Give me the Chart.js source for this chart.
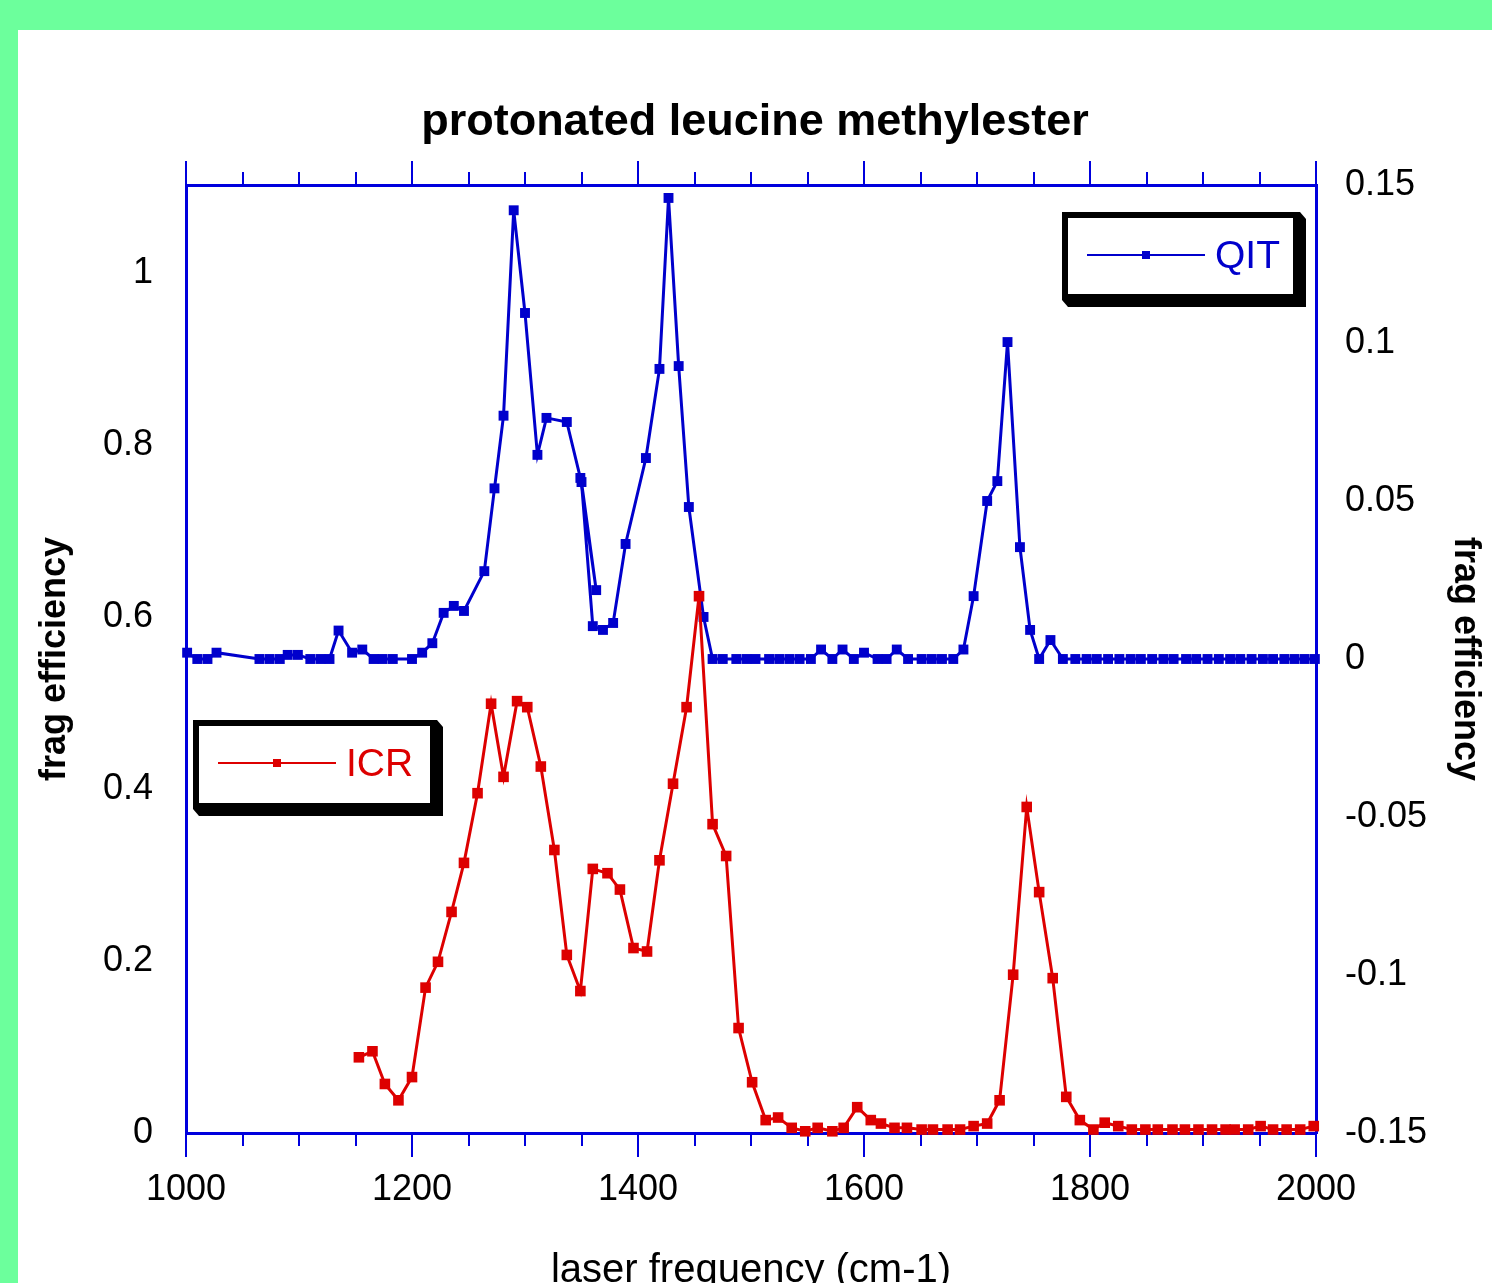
<!DOCTYPE html>
<html>
<head>
<meta charset="utf-8">
<title>protonated leucine methylester</title>
<script src="https://cdn.jsdelivr.net/npm/chart.js@4.4.1/dist/chart.umd.min.js"></script>
<style>
    html, body { margin: 0; padding: 0; overflow: hidden; background: #6cff9c; }
    #panel { position: absolute; left: 18px; top: 30px; width: 1474px; height: 1290px; background: #fff; }
</style>
</head>
<body>
<div id="panel"><canvas id="fragChart" width="1474" height="1290"></canvas></div>
<script>
// --- Data ---
const qitFreq = [
    1001, 1010, 1019, 1027, 1065, 1074, 1083, 1090, 1099, 1110,
    1119, 1127, 1135, 1147, 1156, 1166, 1174, 1183, 1200, 1209,
    1218, 1228, 1237, 1246, 1264, 1273, 1281, 1290, 1300, 1311,
    1319, 1337, 1349, 1363, 1350, 1360, 1369, 1378, 1389, 1407,
    1419, 1427, 1436, 1445, 1458, 1466, 1475, 1487, 1496, 1504,
    1516, 1525, 1534, 1543, 1553, 1562, 1572, 1581, 1591, 1600,
    1612, 1620, 1629, 1639, 1651, 1660, 1669, 1679, 1688, 1697,
    1709, 1718, 1727, 1738, 1747, 1755, 1765, 1776, 1787, 1797,
    1806, 1816, 1826, 1836, 1845, 1855, 1865, 1874, 1885, 1894,
    1904, 1914, 1924, 1933, 1943, 1953, 1962, 1972, 1981, 1990,
    1999
];
const qitValues = [
    0.002, 0, 0, 0.002, 0, 0, 0, 0.0013, 0.0013, 0,
    0, 0, 0.009, 0.002, 0.003, 0, 0, 0, 0, 0.002,
    0.005, 0.0146, 0.0168, 0.0152, 0.0278, 0.054, 0.077, 0.142, 0.1095, 0.0646,
    0.0763, 0.075, 0.0573, 0.0218, 0.056, 0.0104, 0.0092, 0.0114, 0.0364, 0.0636,
    0.0918, 0.1459, 0.0927, 0.0481, 0.0133, 0, 0, 0, 0, 0,
    0, 0, 0, 0, 0, 0.003, 0, 0.003, 0, 0.002,
    0, 0, 0.003, 0, 0, 0, 0, 0, 0.003, 0.0199,
    0.05, 0.0563, 0.1003, 0.0354, 0.0092, 0, 0.006, 0, 0, 0,
    0, 0, 0, 0, 0, 0, 0, 0, 0, 0,
    0, 0, 0, 0, 0, 0, 0, 0, 0, 0,
    0
];

const icrFreq = [
    1153, 1165, 1176, 1188, 1200, 1212, 1223, 1235, 1246, 1258,
    1270, 1281, 1293, 1302, 1314, 1326, 1337, 1349, 1360, 1373,
    1384, 1396, 1408, 1419, 1431, 1443, 1454, 1466, 1478, 1489,
    1501, 1513, 1524, 1536, 1548, 1559, 1572, 1582, 1594, 1606,
    1615, 1627, 1638, 1651, 1661, 1674, 1685, 1697, 1709, 1720,
    1732, 1744, 1755, 1767, 1779, 1791, 1803, 1813, 1825, 1837,
    1849, 1860, 1873, 1884, 1896, 1908, 1920, 1928, 1940, 1951,
    1962, 1974, 1986, 1998
];
const icrValues = [
    0.088, 0.095, 0.057, 0.038, 0.065, 0.169, 0.199, 0.257, 0.314, 0.395,
    0.499, 0.414, 0.502, 0.495, 0.426, 0.329, 0.207, 0.165, 0.307, 0.302,
    0.283, 0.215, 0.211, 0.317, 0.406, 0.495, 0.624, 0.359, 0.322, 0.122,
    0.059, 0.015, 0.018, 0.006, 0.002, 0.006, 0.002, 0.006, 0.030, 0.015,
    0.011, 0.006, 0.006, 0.004, 0.004, 0.004, 0.004, 0.008, 0.011, 0.038,
    0.184, 0.379, 0.280, 0.180, 0.042, 0.015, 0.004, 0.012, 0.008, 0.004,
    0.004, 0.004, 0.004, 0.004, 0.004, 0.004, 0.004, 0.004, 0.004, 0.008,
    0.004, 0.004, 0.004, 0.008
];

const freqMin = 1000;
const freqMax = 2000;
const icrTicks = { min: 0, max: 1.102, step: 0.2 };
const qitTicks = { min: -0.15, max: 0.15, step: 0.05 };

const AXIS = '#0000dd';
const QIT_COLOR = '#0000cc';
const ICR_COLOR = '#dd0000';
const FONT = "'Liberation Sans', Arial, sans-serif";

Chart.defaults.font.family = FONT;
Chart.defaults.color = '#000';

// --- Framed legend boxes with black drop shadow ---
const legendBoxes = [
    { label: 'QIT', color: QIT_COLOR, x0: 1044, y0: 182, x1: 1288, y1: 277, lineX0: 1069, lineX1: 1187, lineY: 225 },
    { label: 'ICR', color: ICR_COLOR, x0: 175, y0: 690, x1: 425, y1: 786, lineX0: 200, lineX1: 318, lineY: 733 }
];

const boxLegend = {
    id: 'boxLegend',
    afterDraw(chart) {
        const ctx = chart.ctx;
        ctx.save();
        legendBoxes.forEach(b => {
            ctx.fillStyle = '#000';
            ctx.beginPath();
            ctx.moveTo(b.x0, b.y0);
            ctx.lineTo(b.x1 - 6, b.y0);
            ctx.lineTo(b.x1, b.y0 + 7);
            ctx.lineTo(b.x1, b.y1);
            ctx.lineTo(b.x0 + 6, b.y1);
            ctx.lineTo(b.x0, b.y1 - 7);
            ctx.closePath();
            ctx.fill();
            ctx.fillStyle = '#fff';
            ctx.fillRect(b.x0 + 6, b.y0 + 6, (b.x1 - 13) - (b.x0 + 6), (b.y1 - 13) - (b.y0 + 6));

            ctx.strokeStyle = b.color;
            ctx.lineWidth = 2;
            ctx.beginPath();
            ctx.moveTo(b.lineX0, b.lineY);
            ctx.lineTo(b.lineX1, b.lineY);
            ctx.stroke();
            const mid = (b.lineX0 + b.lineX1) / 2;
            ctx.fillStyle = b.color;
            ctx.fillRect(mid - 4, b.lineY - 4, 8, 8);

            ctx.font = '39px ' + FONT;
            ctx.textAlign = 'left';
            ctx.textBaseline = 'middle';
            ctx.fillText(b.label, b.lineX1 + 10, b.lineY + 2);
        });
        ctx.restore();
    }
};

function tickFormat(value) {
    if (Math.abs(value) < 1e-9) return '0';
    return String(+value.toFixed(2));
}

const ctx = document.getElementById('fragChart').getContext('2d');
const fragChart = new Chart(ctx, {
    type: 'line',
    data: {
        datasets: [
            {
                label: 'ICR',
                data: icrFreq.map((f, i) => ({ x: f, y: icrValues[i] })),
                borderColor: ICR_COLOR,
                backgroundColor: ICR_COLOR,
                borderWidth: 3,
                pointStyle: 'rect',
                pointRadius: 7.5,
                pointBorderWidth: 0,
                tension: 0,
                clip: false,
                xAxisID: 'x',
                yAxisID: 'y'
            },
            {
                label: 'QIT',
                data: qitFreq.map((f, i) => ({ x: f, y: qitValues[i] })),
                borderColor: QIT_COLOR,
                backgroundColor: QIT_COLOR,
                borderWidth: 3,
                pointStyle: 'rect',
                pointRadius: 7,
                pointBorderWidth: 0,
                tension: 0,
                clip: false,
                xAxisID: 'x',
                yAxisID: 'y1'
            }
        ]
    },
    options: {
        responsive: false,
        animation: false,
        devicePixelRatio: 1,
        layout: { padding: 0 },
        plugins: {
            legend: { display: false },
            tooltip: { enabled: false },
            title: {
                display: true,
                text: 'protonated leucine methylester',
                color: '#000',
                font: { size: 45, weight: 'bold' },
                padding: { top: 66, bottom: 35 }
            }
        },
        scales: {
            x: {
                type: 'linear', position: 'bottom',
                min: freqMin, max: freqMax,
                ticks: { stepSize: 200, autoSkip: false, maxRotation: 0, font: { size: 36 }, color: '#000', padding: 11, callback: tickFormat },
                grid: { drawOnChartArea: false, tickLength: 24, color: AXIS, lineWidth: 2 },
                border: { color: AXIS, width: 3 },
                title: { display: true, text: 'laser frequency (cm-1)', color: '#000', font: { size: 40 }, padding: { top: 0, bottom: 25 } },
                afterFit: s => { s.height = 187; }
            },
            xMinor: {
                type: 'linear', position: 'bottom', weight: -1,
                min: freqMin, max: freqMax,
                ticks: { stepSize: 50, display: false },
                grid: { drawOnChartArea: false, tickLength: 13, color: AXIS, lineWidth: 2 },
                border: { display: false },
                afterFit: s => { s.height = 0; }
            },
            xTop: {
                type: 'linear', position: 'top',
                min: freqMin, max: freqMax,
                ticks: { stepSize: 200, display: false },
                grid: { drawOnChartArea: false, tickLength: 24, color: AXIS, lineWidth: 2 },
                border: { color: AXIS, width: 3 },
                afterFit: s => { s.height = 0; }
            },
            xTopMinor: {
                type: 'linear', position: 'top', weight: -1,
                min: freqMin, max: freqMax,
                ticks: { stepSize: 50, display: false },
                grid: { drawOnChartArea: false, tickLength: 13, color: AXIS, lineWidth: 2 },
                border: { display: false },
                afterFit: s => { s.height = 0; }
            },
            y: {
                type: 'linear', position: 'left',
                min: icrTicks.min, max: icrTicks.max,
                ticks: { stepSize: icrTicks.step, includeBounds: false, font: { size: 36 }, color: '#000', padding: 33, callback: tickFormat },
                grid: { drawOnChartArea: false, drawTicks: false },
                border: { color: AXIS, width: 3 },
                title: { display: true, text: 'frag efficiency', color: '#000', font: { size: 36, weight: 'bold' }, padding: { top: 15, bottom: 0 } },
                afterFit: s => { s.width = 168; }
            },
            y1: {
                type: 'linear', position: 'right',
                min: qitTicks.min, max: qitTicks.max,
                ticks: { stepSize: qitTicks.step, includeBounds: false, font: { size: 36 }, color: '#000', padding: 29, callback: tickFormat },
                grid: { drawOnChartArea: false, drawTicks: false },
                border: { color: AXIS, width: 3 },
                title: { display: true, text: 'frag efficiency', color: '#000', font: { size: 36, weight: 'bold' }, padding: { top: 5, bottom: 0 } },
                afterFit: s => { s.width = 176; }
            }
        }
    },
    plugins: [boxLegend]
});
</script>
</body>
</html>
